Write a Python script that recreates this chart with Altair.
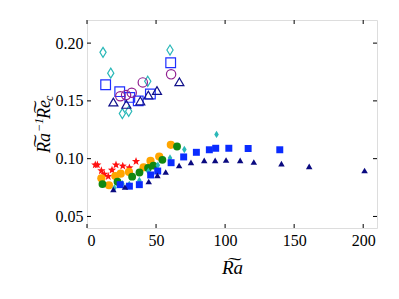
import math
import altair as alt
import pandas as pd

# ---- data ----
# upper branch: open markers
od_x = [11.6, 17.2, 25.6, 30.2, 44.0, 60.1]
od_y = [0.192, 0.174, 0.139, 0.141, 0.167, 0.194]
os_x = [13.5, 23.7, 31.0, 37.1, 45.9, 60.6]
os_y = [0.164, 0.158, 0.153, 0.150, 0.156, 0.183]
oc_x = [24.1, 28.3, 32.4, 40.4, 60.9]
oc_y = [0.154, 0.155, 0.157, 0.166, 0.173]
ot_x = [19.1, 28.5, 38.6, 44.4, 50.7, 66.9]
ot_y = [0.149, 0.147, 0.150, 0.155, 0.159, 0.1665]

# lower branch: filled markers
st_x = [6.0, 7.5, 10.4, 12.5, 15.4, 18.1, 21.0, 25.9, 30.7, 35.5]
st_y = [0.095, 0.095, 0.090, 0.087, 0.085, 0.0905, 0.095, 0.094, 0.0925, 0.098]
or_x = [10.4, 15.9, 20.5, 24.4, 30.4, 41.0, 46.0, 52.3, 60.7]
or_y = [0.083, 0.077, 0.085, 0.087, 0.0885, 0.0925, 0.098, 0.1018, 0.112]
gr_x = [11.2, 22.1, 32.7, 38.0, 44.2, 48.1, 54.6, 65.2]
gr_y = [0.078, 0.080, 0.0844, 0.088, 0.092, 0.094, 0.099, 0.1105]
cy_x = [19.8, 25.6, 30.6, 37.9, 44.4, 51.3, 60.1, 70.5, 93.8]
cy_y = [0.0746, 0.0783, 0.0777, 0.0812, 0.089, 0.0943, 0.1006, 0.108, 0.121]
sq_x = [24.0, 30.7, 37.9, 46.1, 51.2, 60.9, 70.0, 79.2, 88.6, 93.2, 102.7, 116.7, 139.6]
sq_y = [0.0775, 0.0762, 0.0775, 0.0859, 0.0893, 0.0965, 0.1015, 0.1055, 0.1077, 0.109, 0.109, 0.1088, 0.1077]
tr_x = [19.1, 27.5, 44.7, 51.0, 57.0, 66.7, 75.3, 84.9, 92.8, 100.7, 110.9, 120.8, 140.8, 160.9, 201.0]
tr_y = [0.0733, 0.0755, 0.0803, 0.0855, 0.0885, 0.0941, 0.0968, 0.0985, 0.0985, 0.0988,
        0.0985, 0.0971, 0.0957, 0.0933, 0.0898]

x_ticks = [0, 50, 100, 150, 200]
y_ticks = [0.05, 0.10, 0.15, 0.20]
# y title pieces: Ra~ ^{-1} Re~ _c
y_title_parts = ["R\u0360a", "\u22121", "R\u0360e", "c"]
x_title = "R\u0360a"

# ---- shapes ----
def star_path():
    pts = []
    for i in range(10):
        r = 1.0 if i % 2 == 0 else 0.42
        a = -math.pi / 2 + i * math.pi / 5
        pts.append(f"{r*math.cos(a):.3f},{r*math.sin(a)+0.1:.3f}")
    return "M" + "L".join(pts) + "Z"

THIN_DIAMOND = "M0,-1L0.62,0L0,1L-0.62,0Z"
STAR = star_path()

W, H = 290, 208
XS = alt.Scale(domain=[0, 210], nice=False, zero=False)
YS = alt.Scale(domain=[0.04, 0.22], nice=False, zero=False)
FONT = "Liberation Serif"

x_axis = alt.Axis(values=x_ticks, title=x_title, labelFont=FONT, titleFont=FONT)
y_axis = alt.Axis(values=y_ticks, format=".2f", title="", labelFont=FONT)

def series(xs, ys, name):
    return pd.DataFrame({"x": xs, "y": ys, "s": name})

open_df = pd.concat([series(od_x, od_y, "od"), series(os_x, os_y, "os"),
                     series(oc_x, oc_y, "oc"), series(ot_x, ot_y, "ot")])
fill_df = pd.concat([series(st_x, st_y, "st"), series(or_x, or_y, "or"),
                     series(gr_x, gr_y, "gr"), series(cy_x, cy_y, "cy"),
                     series(sq_x, sq_y, "sq"), series(tr_x, tr_y, "tr")])

dom = ["od", "os", "oc", "ot", "st", "or", "gr", "cy", "sq", "tr"]
col = ["#2ab8b8", "#1f2fff", "#902090", "#10108a",
       "#ff1010", "#ffa500", "#118811", "#2ab8b8", "#0a2cff", "#0a0a80"]
shp = [THIN_DIAMOND, "square", "circle", "triangle-up",
       STAR, "circle", "circle", THIN_DIAMOND, "square", "triangle-up"]
siz = [100, 42, 45, 48, 95, 60, 60, 110, 60, 70]

CS = alt.Scale(domain=dom, range=col)
SS = alt.Scale(domain=dom, range=shp)
ZS = alt.Scale(domain=dom, range=siz)

def enc(ch):
    return ch.encode(
        x=alt.X("x:Q", scale=XS, axis=x_axis),
        y=alt.Y("y:Q", scale=YS, axis=y_axis),
        color=alt.Color("s:N", scale=CS, legend=None),
        shape=alt.Shape("s:N", scale=SS, legend=None),
        size=alt.Size("s:N", scale=ZS, legend=None),
    )

open_pts = enc(alt.Chart(open_df).mark_point(filled=False, strokeWidth=1.2, opacity=1))
fill_pts = enc(alt.Chart(fill_df).mark_point(filled=True, opacity=1, strokeWidth=0))

xt = pd.DataFrame({"v": x_ticks})
yt = pd.DataFrame({"v": y_ticks})
tick_style = dict(color="black", strokeWidth=1)
xb = alt.Chart(xt).mark_rule(**tick_style).encode(
    x=alt.X("v:Q", scale=XS, axis=x_axis), y=alt.value(H), y2=alt.value(H - 4))
xtp = alt.Chart(xt).mark_rule(**tick_style).encode(
    x=alt.X("v:Q", scale=XS, axis=x_axis), y=alt.value(0), y2=alt.value(4))
yl = alt.Chart(yt).mark_rule(**tick_style).encode(
    y=alt.Y("v:Q", scale=YS, axis=y_axis), x=alt.value(0), x2=alt.value(4))
yr = alt.Chart(yt).mark_rule(**tick_style).encode(
    y=alt.Y("v:Q", scale=YS, axis=y_axis), x=alt.value(W), x2=alt.value(W - 4))

# rotated y-axis title assembled from pieces (reads bottom-to-top)
def title_piece(txt, size, xpos, ypos):
    return alt.Chart(pd.DataFrame({"t": [txt]})).mark_text(
        font=FONT, fontStyle="italic", fontSize=size, angle=270, align="left",
        baseline="alphabetic", color="black").encode(
        text="t:N", x=alt.value(xpos), y=alt.value(ypos))

BX = -37
yt1 = title_piece(y_title_parts[0], 18, BX, 133)
yt2 = title_piece(y_title_parts[1], 12, BX - 7, 112)
yt3 = title_piece(y_title_parts[2], 18, BX, 99)
yt4 = title_piece(y_title_parts[3], 12, BX + 3, 81)

chart = alt.layer(open_pts, fill_pts, xb, xtp, yl, yr, yt1, yt2, yt3, yt4).properties(
    width=W, height=H, autosize="none",
    padding={"left": 79, "top": 12, "right": 10, "bottom": 60},
).configure_view(stroke="black", strokeWidth=1.3).configure(
    background="white", font=FONT
).configure_axis(
    ticks=False, domain=False, grid=False, labelFont=FONT, labelFontSize=16,
    labelColor="black", labelPadding=4, titleFont=FONT, titleFontStyle="italic",
    titleFontWeight="normal", titleFontSize=19, titleColor="black", titlePadding=10,
)

chart.save("out.html", embed_options={"renderer": "svg", "actions": False})
